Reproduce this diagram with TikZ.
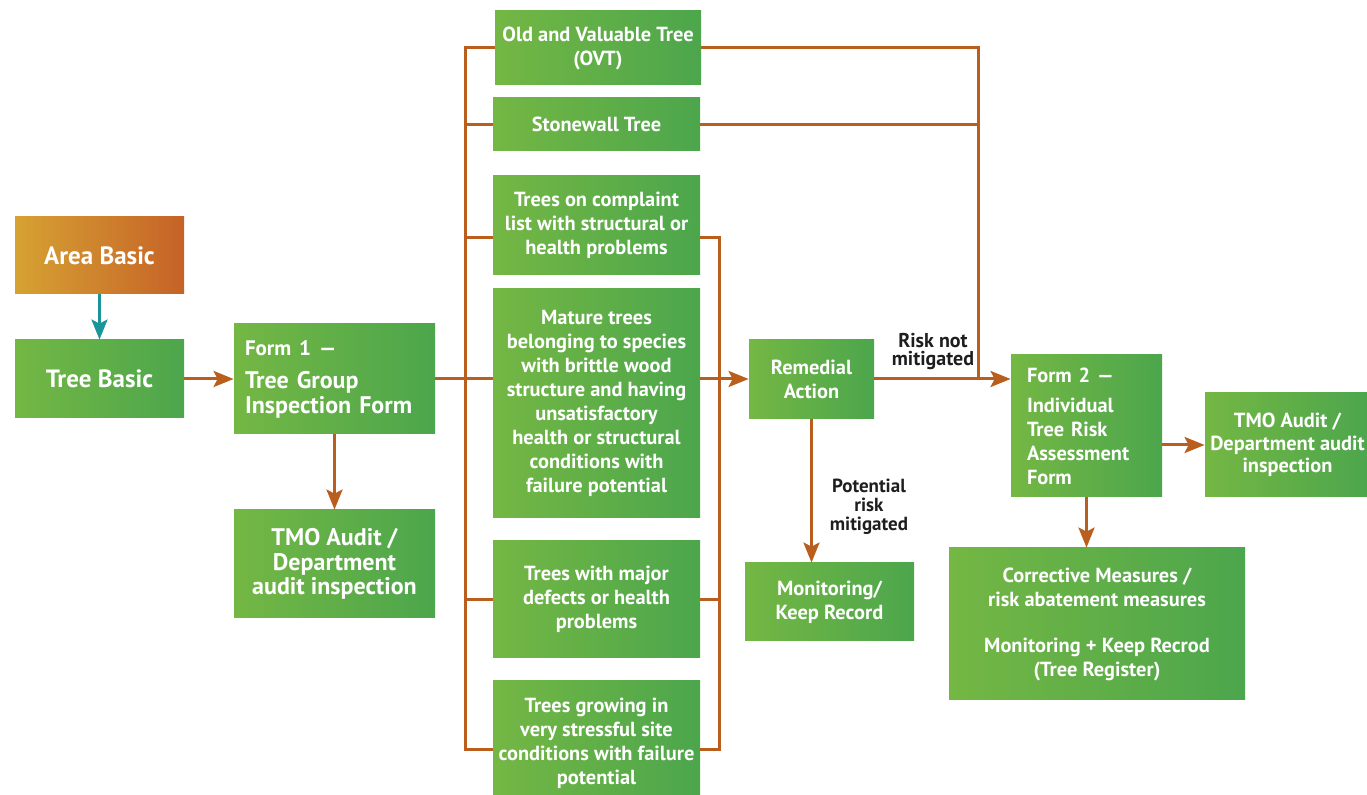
\documentclass[tikz,border=0pt]{standalone}
\usepackage{fontspec}
\setmainfont{PT Sans}
\usetikzlibrary{arrows.meta}

\definecolor{greenL}{RGB}{116,183,68}
\definecolor{greenR}{RGB}{76,166,76}
\definecolor{areaL}{RGB}{214,162,50}
\definecolor{areaR}{RGB}{198,98,40}
\definecolor{flowline}{RGB}{186,94,30}
\definecolor{tealline}{RGB}{26,150,154}
\definecolor{lbltext}{RGB}{30,30,30}

\begin{document}
\begin{tikzpicture}[x=0.5pt,y=-0.5pt,>={Stealth[length=10pt,width=8pt,inset=2pt]},
    box/.style={rectangle,left color=greenL,right color=greenR,text=white,
      font=\bfseries\fontsize{10.2}{12}\selectfont,align=center,inner sep=0pt},
    bigbox/.style={box,font=\bfseries\fontsize{12.5}{12.5}\selectfont},
    flow/.style={draw=flowline,line width=1.5pt},
    lbl/.style={text=lbltext,font=\bfseries\fontsize{10}{9}\selectfont,align=center,inner sep=0pt}]
    \useasboundingbox (0,0) rectangle (1367,795);

    % basic boxes and form 1
    \node[bigbox,left color=areaL,right color=areaR,minimum width=84.5pt,minimum height=38.5pt] (area) at (99.5,255.5) {Area Basic};
    \node[bigbox,minimum width=84.5pt,minimum height=39pt] (tree) at (99.5,379) {Tree Basic};
    \node[bigbox,font=\bfseries\fontsize{12}{12.5}\selectfont,align=left,text width=89.5pt,inner xsep=5.5pt,minimum height=55pt] (form1) at (334.5,379)
        {{\fontsize{10.5}{11}\selectfont Form 1 —}\\[4pt]Tree Group\\Inspection Form};
    \node[bigbox,font=\bfseries\fontsize{12}{12.25}\selectfont,minimum width=100.5pt,minimum height=54pt] (audit1) at (334.5,564)
        {TMO Audit /\\Department\\audit inspection};

    % tree categories
    \node[box,minimum width=103pt,minimum height=37pt] (ovt) at (598,48) {Old and Valuable Tree\\(OVT)};
    \node[box,minimum width=103.5pt,minimum height=26.5pt] (stone) at (596.5,124.5) {Stonewall Tree};
    \node[box,minimum width=103.5pt,minimum height=49.5pt] (complaint) at (596.5,225.5)
        {Trees on complaint\\list with structural or\\health problems};
    \node[box,minimum width=103.5pt,minimum height=114.5pt] (mature) at (596.5,403.5)
        {Mature trees\\belonging to species\\with brittle wood\\structure and having\\unsatisfactory\\health or structural\\conditions with\\failure potential};
    \node[box,minimum width=103.5pt,minimum height=58.5pt] (major) at (596.5,599.5)
        {Trees with major\\defects or health\\problems};
    \node[box,minimum width=103.5pt,minimum height=62pt] (growing) at (596.5,743)
        {Trees growing in\\very stressful site\\conditions with failure\\potential};

    % remedial action and form 2
    \node[box,minimum width=62.5pt,minimum height=39.5pt] (remedial) at (811.5,379) {Remedial\\Action};
    \node[box,minimum width=84.5pt,minimum height=39pt] (monitor) at (829.5,602) {Monitoring/\\Keep Record};
    \node[box,align=left,text width=59.5pt,inner xsep=8pt,minimum height=71pt] (form2) at (1086.5,426)
        {Form 2 —\\[3pt]Individual\\Tree Risk\\Assessment\\Form};
    \node[box,font=\bfseries\fontsize{10.2}{11.25}\selectfont,minimum width=82.5pt,minimum height=52pt] (audit2) at (1287.5,445)
        {TMO Audit /\\Department audit\\inspection};
    \node[box,minimum width=148pt,minimum height=76pt] (corrective) at (1097,624)
        {Corrective Measures /\\risk abatement measures\\[11pt]Monitoring + Keep Recrod\\(Tree Register)};

    % labels
    \node[lbl] (notmit) at (933,352) {Risk not\\mitigated};
    \node[lbl,font=\bfseries\fontsize{9.5}{9.5}\selectfont] (mit) at (869,507) {Potential\\risk\\mitigated};

    % bus coordinates
    \coordinate (ltop) at (465,48);
    \coordinate (lbot) at (465,750);
    \coordinate (rtop) at (719,238);
    \coordinate (rbot) at (719,750);
    \coordinate (ttop) at (978,48);

    % left connectors
    \draw[tealline,line width=1.5pt,->] (area.south) -- (tree.north);
    \draw[flow,->] (tree.east) -- (tree.east -| form1.west);
    \draw[flow,->] (form1.south) -- (audit1.north);

    % left bus
    \draw[flow] (ovt.west) -- (ltop) -- (lbot) -- (lbot -| growing.west);
    \draw[flow] (stone.west) -- (stone.west -| ltop);
    \draw[flow] (complaint.west |- rtop) -- (rtop -| ltop);
    \draw[flow] (major.west) -- (major.west -| ltop);
    \draw[flow] (form1.east) -- (form1.east -| mature.west);

    % right bus
    \draw[flow] (complaint.east |- rtop) -- (rtop) -- (rbot) -- (rbot -| growing.east);
    \draw[flow] (major.east) -- (major.east -| rtop);
    \draw[flow,->] (mature.east |- form1.east) -- (remedial.west);

    % top bus
    \draw[flow] (ovt.east) -- (ttop) -- (ttop |- remedial.east);
    \draw[flow] (stone.east) -- (stone.east -| ttop);
    \draw[flow,->] (remedial.east) -- (remedial.east -| form2.west);

    % remaining arrows
    \draw[flow,->] (remedial.south) -- (remedial.south |- monitor.north);
    \draw[flow,->] (form2.east |- audit2.west) -- (audit2.west);
    \draw[flow,->] (form2.south) -- (form2.south |- corrective.north);
\end{tikzpicture}
\end{document}
